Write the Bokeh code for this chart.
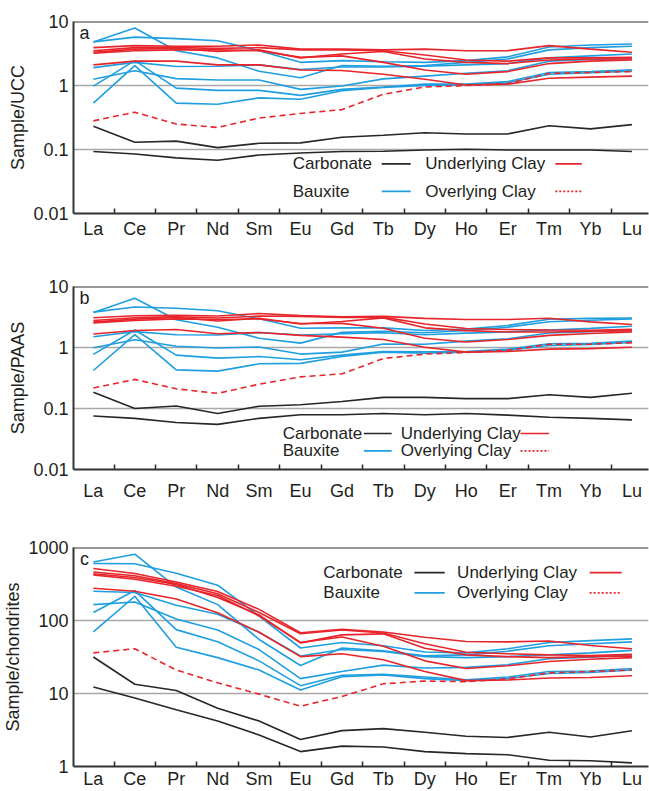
from bokeh.plotting import figure
from bokeh.layouts import column
from bokeh.models import Range1d, FixedTicker, CustomJSTickFormatter, Label, Arrow, Span
from bokeh.embed import file_html
from bokeh.resources import INLINE

elements = ["La", "Ce", "Pr", "Nd", "Sm", "Eu", "Gd", "Tb", "Dy", "Ho", "Er", "Tm", "Yb", "Lu"]

# ---------------- panel a: UCC normalised ----------------
ucc_carbonate = [
    [0.23, 0.13, 0.135, 0.107, 0.125, 0.127, 0.155, 0.167, 0.183, 0.175, 0.175, 0.235, 0.21, 0.245],
    [0.093, 0.085, 0.074, 0.068, 0.082, 0.088, 0.093, 0.094, 0.098, 0.101, 0.098, 0.098, 0.098, 0.093],
]
ucc_bauxite = [
    [4.8, 7.9, 3.5, 2.7, 1.67, 1.32, 2.05, 2.0, 2.05, 2.3, 2.6, 3.6, 3.9, 4.1],
    [4.8, 5.7, 5.4, 5.0, 3.5, 2.3, 2.45, 2.35, 2.3, 2.45, 2.8, 4.0, 4.3, 4.45],
    [1.9, 2.3, 1.98, 2.0, 2.1, 1.78, 1.95, 1.95, 2.0, 2.1, 2.2, 2.7, 2.9, 3.1],
    [1.25, 1.7, 1.28, 1.22, 1.22, 0.87, 0.98, 1.27, 1.4, 1.55, 1.7, 2.4, 2.55, 2.7],
    [0.98, 2.45, 0.91, 0.84, 0.84, 0.7, 0.87, 0.95, 1.05, 1.05, 1.15, 1.6, 1.65, 1.76],
    [0.53, 2.05, 0.53, 0.51, 0.64, 0.61, 0.83, 0.93, 1.0, 1.02, 1.1, 1.5, 1.58, 1.68],
]
ucc_underlying = [
    [3.9, 4.2, 4.1, 4.1, 4.3, 3.7, 3.7, 3.6, 3.7, 3.5, 3.5, 4.2, 3.7, 3.3],
    [3.5, 3.9, 3.9, 3.8, 3.9, 3.6, 3.6, 3.5, 3.0, 2.5, 2.4, 2.7, 2.7, 2.75],
    [3.3, 3.7, 3.8, 3.4, 3.6, 2.7, 3.1, 3.4, 2.6, 2.3, 2.2, 2.5, 2.6, 2.6],
    [3.2, 3.5, 3.6, 3.6, 3.5, 2.75, 2.9, 2.3, 1.75, 1.5, 1.65, 2.2, 2.4, 2.5],
    [2.1, 2.4, 2.4, 2.1, 2.1, 1.75, 1.72, 1.5, 1.25, 1.02, 1.05, 1.3, 1.35, 1.4],
]
ucc_overlying = [0.28, 0.383, 0.25, 0.221, 0.31, 0.366, 0.42, 0.73, 0.95, 1.0, 1.07, 1.54, 1.6, 1.65]

# ---------------- panel b: PAAS normalised ----------------
paas_carbonate = [
    [0.184, 0.10, 0.11, 0.083, 0.109, 0.115, 0.13, 0.152, 0.152, 0.145, 0.145, 0.168, 0.152, 0.178],
    [0.0755, 0.069, 0.059, 0.055, 0.069, 0.079, 0.079, 0.083, 0.079, 0.083, 0.078, 0.072, 0.069, 0.065],
]
paas_bauxite = [
    [3.75, 6.4, 2.85, 2.15, 1.42, 1.18, 1.77, 1.85, 1.75, 1.9, 2.15, 2.65, 2.8, 2.95],
    [3.8, 4.6, 4.4, 4.0, 2.95, 2.07, 2.1, 2.1, 1.9, 2.0, 2.3, 2.9, 3.0, 3.05],
    [1.5, 1.82, 1.62, 1.6, 1.76, 1.6, 1.68, 1.75, 1.62, 1.72, 1.8, 1.94, 2.06, 2.23],
    [0.99, 1.34, 1.05, 0.98, 1.02, 0.78, 0.84, 1.14, 1.13, 1.27, 1.39, 1.73, 1.81, 1.94],
    [0.77, 1.94, 0.75, 0.67, 0.71, 0.63, 0.75, 0.86, 0.85, 0.86, 0.94, 1.15, 1.17, 1.27],
    [0.42, 1.62, 0.43, 0.41, 0.54, 0.55, 0.71, 0.84, 0.81, 0.84, 0.9, 1.08, 1.12, 1.21],
]
paas_underlying = [
    [3.08, 3.32, 3.36, 3.28, 3.61, 3.33, 3.18, 3.24, 3.0, 2.87, 2.87, 3.02, 2.63, 2.38],
    [2.77, 3.08, 3.2, 3.04, 3.28, 3.24, 3.1, 3.15, 2.43, 2.05, 1.97, 1.94, 1.92, 1.98],
    [2.61, 2.92, 3.12, 2.72, 3.02, 2.43, 2.67, 3.06, 2.1, 1.89, 1.8, 1.8, 1.85, 1.87],
    [2.53, 2.77, 2.95, 2.88, 2.94, 2.48, 2.49, 2.07, 1.42, 1.23, 1.35, 1.58, 1.7, 1.8],
    [1.66, 1.9, 1.97, 1.68, 1.76, 1.58, 1.48, 1.35, 1.01, 0.84, 0.86, 0.94, 0.96, 1.01],
]
paas_overlying = [0.217, 0.30, 0.21, 0.177, 0.25, 0.33, 0.37, 0.66, 0.78, 0.83, 0.9, 1.13, 1.13, 1.2]

# ---------------- panel c: chondrite normalised ----------------
chon_carbonate = [
    [31.6, 13.4, 11.0, 6.3, 4.2, 2.34, 3.1, 3.3, 2.95, 2.6, 2.5, 2.95, 2.54, 3.09],
    [12.3, 8.7, 6.0, 4.2, 2.7, 1.6, 1.9, 1.85, 1.6, 1.5, 1.45, 1.22, 1.2, 1.12],
]
chon_bauxite = [
    [634, 810, 287, 165, 55, 24.2, 42, 38.6, 32.8, 33.8, 38, 45, 48, 51],
    [605, 599, 443, 305, 115, 42, 50, 45, 37, 36, 41, 50, 53, 56],
    [251, 242, 162, 122, 69, 32.6, 40, 37.6, 32, 31, 32, 34, 36, 39],
    [165, 179, 105, 74, 40, 16, 20, 24.5, 22.4, 22.8, 24.8, 30, 31.4, 34],
    [129, 257, 75, 51, 28, 12.8, 17.8, 18.3, 16.8, 15.4, 16.8, 20, 20.3, 22],
    [70, 215, 43, 31, 21, 11.2, 17, 18, 16, 15, 16, 18.8, 19.4, 21],
]
chon_underlying = [
    [515, 441, 336, 250, 142, 68, 76, 69.5, 59, 51.5, 51, 52.5, 45.5, 41],
    [462, 410, 320, 232, 129, 66, 74, 67.5, 48, 36.8, 35, 33.8, 33.2, 34.4],
    [436, 389, 312, 207, 119, 49.4, 63.5, 65.6, 41.6, 33.8, 32, 31, 32, 32.5],
    [422, 368, 295, 220, 115.5, 50, 59.5, 44.4, 28, 22, 24, 27.5, 29.5, 31],
    [277, 252, 197, 128, 69, 32, 35, 29, 20, 15, 15.3, 16.3, 16.6, 17.5],
]
chon_overlying = [36, 41, 21, 14, 9.8, 6.7, 9.1, 13.6, 14.8, 14.5, 15.9, 19.2, 20, 21]

legend_labels = ["Carbonate", "Underlying Clay", "Bauxite", "Overlying Clay"]

BLACK = "#2a2526"
BLUE = "#1f9fe0"
RED = "#e8252b"
FONT = "Liberation Sans"
TXT = "#231f20"

xi = list(range(len(elements)))


def panel(height, top, bottom, yr, yticks, ylabel, letter, letter_y, std,
          carb, baux, under, over, leg):
    p = figure(width=649, height=height, x_range=Range1d(-0.48, 13.4),
               y_range=Range1d(*yr), y_axis_type="log",
               output_backend="svg", toolbar_location=None,
               min_border_left=67, min_border_right=1,
               min_border_top=top, min_border_bottom=bottom)
    p.outline_line_color = None
    p.background_fill_color = "white"
    p.border_fill_color = "white"

    # x axis
    xa = p.xaxis[0]
    xa.ticker = FixedTicker(ticks=xi, minor_ticks=[i + 0.5 for i in range(-1, 14)])
    xa.formatter = CustomJSTickFormatter(args=dict(names=elements),
                                         code="return names[Math.round(tick)] || '';")
    xa.major_tick_line_color = None
    xa.major_tick_in = 0
    xa.major_tick_out = 0
    xa.minor_tick_in = 5
    xa.minor_tick_out = 0
    xa.minor_tick_line_color = BLACK
    xa.minor_tick_line_width = 1.5
    xa.major_label_standoff = std
    xa.major_label_text_font = FONT
    xa.major_label_text_font_size = "18px"
    xa.major_label_text_color = TXT
    xa.axis_line_color = "#333333"
    xa.axis_line_width = 2

    # y axis
    ya = p.yaxis[0]
    ya.ticker = FixedTicker(ticks=yticks)
    ya.formatter = CustomJSTickFormatter(code="return String(tick);")
    ya.major_tick_in = 0
    ya.major_tick_out = 0
    ya.minor_tick_line_color = None
    ya.major_label_standoff = 5
    ya.major_label_text_font = FONT
    ya.major_label_text_font_size = "18px"
    ya.major_label_text_color = TXT
    ya.axis_label = ylabel
    ya.axis_label_text_font = FONT
    ya.axis_label_text_font_size = "18px"
    ya.axis_label_text_font_style = "normal"
    ya.axis_label_text_color = TXT
    ya.axis_label_standoff = 2
    ya.axis_line_color = "#333333"
    ya.axis_line_width = 2

    p.xgrid.grid_line_color = None
    p.ygrid.ticker = FixedTicker(ticks=yticks)
    p.ygrid.grid_line_color = "#a8a8a8"
    p.ygrid.grid_line_width = 1.5

    p.add_layout(Span(location=yr[1], dimension="width", line_color="#333333", line_width=2))

    for s in carb:
        p.line(xi, s, line_color=BLACK, line_width=1.6)
    for s in baux:
        p.line(xi, s, line_color=BLUE, line_width=1.6)
    for s in under:
        p.line(xi, s, line_color=RED, line_width=1.6)
    p.line(xi, over, line_color=RED, line_width=1.6, line_dash="6 4")

    p.add_layout(Label(x=-0.215, y=letter_y, text=letter, text_font=FONT,
                       text_font_size="18px", text_color=TXT,
                       text_align="center", text_baseline="middle"))

    # legend (text followed by line sample)
    (tx1, tx2, y1, y2, l1a, l1b, l2a, l2b) = leg
    styles = [(BLACK, None), (RED, None), (BLUE, None), (RED, "2 2")]
    rows = [(tx1, y1, l1a), (tx2, y1, l2a), (tx1, y2, l1a), (tx2, y2, l2a)]
    ends = [l1b, l2b, l1b, l2b]
    for (tx, ty, la), lb, lab, (col, dash) in zip(rows, ends, legend_labels, styles):
        p.add_layout(Label(x=tx, y=ty, text=lab, text_font=FONT, text_font_size="17px",
                           text_color=TXT, text_align="left", text_baseline="middle"))
        kw = dict(line_dash=dash) if dash else {}
        p.add_layout(Arrow(end=None, x_start=la, y_start=ty, x_end=lb, y_end=ty,
                           line_color=col, line_width=1.6, **kw))
    return p


pa = panel(270, 21, 57, (0.01, 10), [0.01, 0.1, 1, 10], "Sample/UCC", "a", 6.7, 5,
           ucc_carbonate, ucc_bauxite, ucc_underlying, ucc_overlying,
           (4.81, 8.01, 0.0596, 0.0222, 6.96, 7.66, 11.15, 11.79))
pb = panel(268, 16, 69, (0.01, 10), [0.01, 0.1, 1, 10], "Sample/PAAS", "b", 6.5, 11,
           paas_carbonate, paas_bauxite, paas_underlying, paas_overlying,
           (4.57, 7.42, 0.0389, 0.0202, 6.53, 7.2, 10.31, 11.0))
pc = panel(253, 9, 24, (1, 1000), [1, 10, 100, 1000], "Sample/chondrites", "c", 689, 2,
           chon_carbonate, chon_bauxite, chon_underlying, chon_overlying,
           (5.55, 8.78, 452, 239, 7.75, 8.48, 11.98, 12.75))

layout = column(pa, pb, pc, spacing=0)
open("out.html", "w").write(file_html(layout, INLINE))
